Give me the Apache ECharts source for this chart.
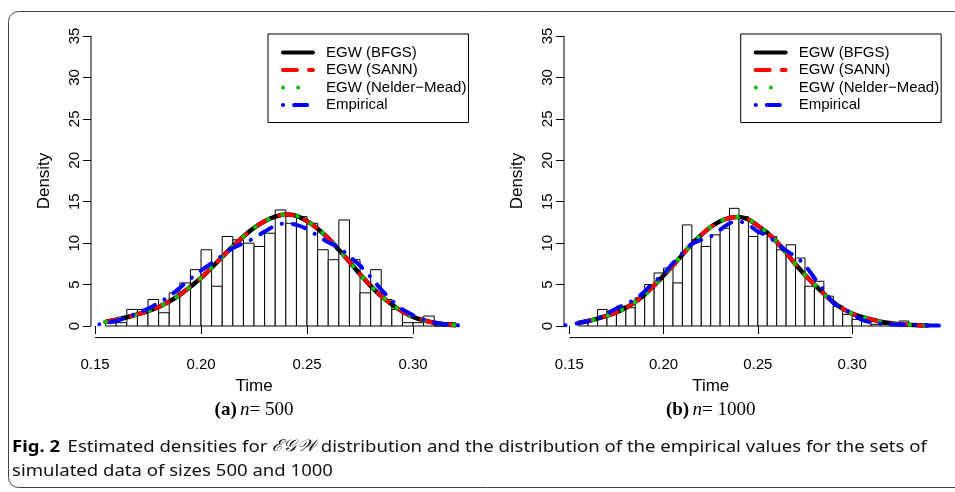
<!DOCTYPE html>
<html>
<head>
<meta charset="utf-8">
<script src="https://cdn.jsdelivr.net/npm/echarts@6/dist/echarts.min.js"></script>
<style>
html,body{margin:0;padding:0;background:#fff;}
#main{width:955px;height:492px;}
</style>
</head>
<body>
<div id="main"></div>
<script>
// ---------- DATA ----------
const xTicks = [0.15, 0.20, 0.25, 0.30];
const yTicks = [0, 5, 10, 15, 20, 25, 30, 35];
const seriesNames = ['EGW (BFGS)', 'EGW (SANN)', 'EGW (Nelder\u2212Mead)', 'Empirical'];

// (a) n = 500 : histogram
const leftBreaks = [0.155,0.16,0.165,0.17,0.175,0.18,0.185,0.19,0.195,0.2,0.205,0.21,0.215,0.22,0.225,0.23,0.235,0.24,0.245,0.25,0.255,0.26,0.265,0.27,0.275,0.28,0.285,0.29,0.295,0.3,0.305,0.31,0.315,0.32];
const leftDensity = [0.4,0.4,2.0,2.0,3.2,1.6,4.0,5.2,6.8,9.2,4.8,10.8,10.4,10.0,9.6,11.2,14.0,12.4,13.2,12.4,9.2,8.0,12.8,8.0,4.0,6.8,3.2,2.0,0.4,0.4,1.2,0,0.4];
// (a) fitted curves
const leftFitX = [0.155,0.16,0.165,0.17,0.175,0.18,0.185,0.19,0.195,0.2,0.205,0.21,0.215,0.22,0.225,0.23,0.235,0.24,0.245,0.25,0.255,0.26,0.265,0.27,0.275,0.28,0.285,0.29,0.295,0.3,0.305,0.31,0.315,0.32];
const leftBFGS = [0.5,0.75,1.05,1.4,1.8,2.3,2.95,3.75,4.75,5.8,7.05,8.35,9.6,10.8,11.85,12.65,13.2,13.45,13.3,12.65,11.75,10.6,9.2,7.75,6.25,4.85,3.6,2.6,1.75,1.1,0.7,0.4,0.22,0.1];
const leftSANN = [0.5,0.75,1.05,1.4,1.8,2.3,2.95,3.75,4.75,5.8,7.05,8.35,9.6,10.8,11.85,12.65,13.2,13.45,13.3,12.65,11.75,10.6,9.2,7.75,6.25,4.85,3.6,2.6,1.75,1.1,0.7,0.4,0.22,0.1];
const leftNM   = [0.5,0.75,1.05,1.4,1.8,2.3,2.95,3.75,4.75,5.8,7.05,8.35,9.6,10.8,11.85,12.65,13.2,13.45,13.3,12.65,11.75,10.6,9.2,7.75,6.25,4.85,3.6,2.6,1.75,1.1,0.7,0.4,0.22,0.1];
const leftEmpX = [0.152,0.155,0.16,0.165,0.17,0.175,0.18,0.185,0.19,0.195,0.2,0.205,0.21,0.215,0.22,0.225,0.23,0.235,0.24,0.245,0.25,0.255,0.26,0.265,0.27,0.275,0.28,0.285,0.29,0.295,0.3,0.305,0.31,0.315,0.32,0.323];
const leftEmp  = [0.2,0.35,0.6,1.05,1.55,2.1,2.8,3.6,4.6,5.7,6.7,7.6,8.5,9.4,10.0,10.6,11.4,12.1,12.4,12.2,11.7,10.9,10.1,9.5,8.4,7.3,5.9,4.4,3.1,2.0,1.3,0.75,0.42,0.2,0.1,0.06];

// (b) n = 1000 : histogram
const rightBreaks = [0.155,0.16,0.165,0.17,0.175,0.18,0.185,0.19,0.195,0.2,0.205,0.21,0.215,0.22,0.225,0.23,0.235,0.24,0.245,0.25,0.255,0.26,0.265,0.27,0.275,0.28,0.285,0.29,0.295,0.3,0.305,0.31,0.315,0.32,0.325,0.33,0.335,0.34];
const rightDensity = [0.4,0.8,2.0,1.8,2.4,2.2,3.4,5.0,6.4,7.0,5.2,12.2,10.4,9.6,11.0,11.8,14.2,13.2,10.8,11.4,10.8,9.2,9.8,8.2,4.8,5.4,3.6,2.4,1.4,0.8,0.6,0.2,0.2,0.2,0.6,0.2,0.2];
// (b) fitted curves
const rightFitX = [0.155,0.16,0.165,0.17,0.175,0.18,0.185,0.19,0.195,0.2,0.205,0.21,0.215,0.22,0.225,0.23,0.235,0.24,0.245,0.25,0.255,0.26,0.265,0.27,0.275,0.28,0.285,0.29,0.295,0.3,0.305,0.31,0.315,0.32,0.325,0.33,0.335,0.34];
const rightBFGS = [0.4,0.6,0.9,1.25,1.65,2.2,2.9,3.8,4.9,6.1,7.3,8.6,9.9,11.0,11.95,12.65,13.05,13.15,12.85,12.1,11.25,10.15,8.85,7.45,6.15,5.0,3.9,2.85,2.1,1.5,1.1,0.8,0.52,0.35,0.22,0.15,0.09,0.05];
const rightSANN = [0.4,0.6,0.9,1.25,1.65,2.2,2.9,3.8,4.9,6.1,7.3,8.6,9.9,11.0,11.95,12.65,13.05,13.15,12.85,12.1,11.25,10.15,8.85,7.45,6.15,5.0,3.9,2.85,2.1,1.5,1.1,0.8,0.52,0.35,0.22,0.15,0.09,0.05];
const rightNM   = [0.4,0.6,0.9,1.25,1.65,2.2,2.9,3.8,4.9,6.1,7.3,8.6,9.9,11.0,11.95,12.65,13.05,13.15,12.85,12.1,11.25,10.15,8.85,7.45,6.15,5.0,3.9,2.85,2.1,1.5,1.1,0.8,0.52,0.35,0.22,0.15,0.09,0.05];
const rightEmpX = [0.148,0.155,0.16,0.165,0.17,0.175,0.18,0.185,0.19,0.195,0.2,0.205,0.21,0.215,0.22,0.225,0.23,0.235,0.24,0.245,0.25,0.255,0.26,0.265,0.27,0.275,0.28,0.285,0.29,0.295,0.3,0.305,0.31,0.315,0.32,0.325,0.33,0.335,0.34,0.346];
const rightEmp  = [0.1,0.35,0.6,0.9,1.5,2.1,2.7,3.2,4.2,5.3,6.3,7.6,8.8,9.9,10.4,10.8,11.6,12.4,12.6,12.2,11.4,10.9,10.0,9.1,8.4,7.3,5.8,4.3,2.8,2.1,1.5,0.75,0.45,0.3,0.2,0.18,0.15,0.12,0.08,0.05];

const panelLabels = ['(a)', '(b)'];
const panelN = ['500', '1000'];
const xName = 'Time';
const yName = 'Density';
const captionBold = 'Fig. 2';
const captionLine1 = 'Estimated densities for ';
const captionScript = '\u2130\uD835\uDCA2\uD835\uDCB2';
const captionLine1b = ' distribution and the distribution of the empirical values for the sets of';
const captionLine2 = 'simulated data of sizes 500 and 1000';

// ---------- BUILD ----------
const chart = echarts.init(document.getElementById('main'), null, {renderer: 'canvas'});
const SANS = "'Liberation Sans', Arial, Helvetica, sans-serif";
const SERIF = "'Liberation Serif', 'DejaVu Serif', serif";
const CAP = "'Noto Sans', 'Open Sans', sans-serif";

function pairs(xs, ys) { return xs.map((x, i) => [x, ys[i]]); }
function histData(breaks, dens) { return dens.map((d, i) => [breaks[i], breaks[i + 1], d]); }

const panels = [
  {grid: {left: 91, top: 24.4, width: 378, height: 313.2}, xmin: 0.1481, xmax: 0.3264,
   hist: histData(leftBreaks, leftDensity), fitX: leftFitX, bfgs: leftBFGS, sann: leftSANN, nm: leftNM, empX: leftEmpX, emp: leftEmp},
  {grid: {left: 564, top: 24.4, width: 377.7, height: 313.2}, xmin: 0.1472, xmax: 0.3475,
   hist: histData(rightBreaks, rightDensity), fitX: rightFitX, bfgs: rightBFGS, sann: rightSANN, nm: rightNM, empX: rightEmpX, emp: rightEmp}
];
const YMIN = -1.4, YMAX = 36.4;

const grids = [], xAxes = [], yAxes = [], series = [], legends = [], graphics = [];

panels.forEach((p, k) => {
  grids.push(p.grid);
  xAxes.push({
    type: 'value', gridIndex: k, min: p.xmin, max: p.xmax,
    axisLine: {show: false}, splitLine: {show: false},
    axisTick: {show: true, customValues: xTicks, length: 8, lineStyle: {color: '#000', width: 1}},
    axisLabel: {show: true, customValues: xTicks, formatter: v => v.toFixed(2), margin: 20,
      color: '#000', fontFamily: SANS, fontSize: 15}
  });
  yAxes.push({
    type: 'value', gridIndex: k, min: YMIN, max: YMAX,
    axisLine: {show: false}, splitLine: {show: false},
    axisTick: {show: true, customValues: yTicks, length: 8, lineStyle: {color: '#000', width: 1}},
    axisLabel: {show: true, customValues: yTicks, rotate: 90, margin: 9,
      color: '#000', fontFamily: SANS, fontSize: 15},
    name: yName, nameLocation: 'middle', nameGap: 38, nameRotate: 90,
    nameTextStyle: {color: '#000', fontFamily: SANS, fontSize: 17}
  });
  // axis segments (R style, span tick range only)
  series.push({
    type: 'line', xAxisIndex: k, yAxisIndex: k, silent: true, clip: false, symbol: 'none',
    data: [[xTicks[0], YMIN], [xTicks[xTicks.length - 1], YMIN]],
    lineStyle: {color: '#000', width: 1}, z: 1
  });
  series.push({
    type: 'line', xAxisIndex: k, yAxisIndex: k, silent: true, clip: false, symbol: 'none',
    data: [[p.xmin, yTicks[0]], [p.xmin, yTicks[yTicks.length - 1]]],
    lineStyle: {color: '#000', width: 1}, z: 1
  });
  // histogram
  series.push({
    type: 'custom', xAxisIndex: k, yAxisIndex: k, silent: true, z: 2,
    data: p.hist,
    renderItem: function (params, api) {
      const a = api.coord([api.value(0), 0]);
      const b = api.coord([api.value(1), api.value(2)]);
      return {type: 'rect', shape: {x: a[0], y: b[1], width: b[0] - a[0], height: a[1] - b[1]},
        style: {fill: '#fff', stroke: '#000', lineWidth: 1}};
    }
  });
  // density curves
  series.push({name: seriesNames[0], type: 'line', xAxisIndex: k, yAxisIndex: k, symbol: 'none', smooth: 0.3, z: 3,
    data: pairs(p.fitX, p.bfgs), lineStyle: {color: '#000', width: 4.5, cap: 'round'}, itemStyle: {color: '#000'}});
  series.push({name: seriesNames[1], type: 'line', xAxisIndex: k, yAxisIndex: k, symbol: 'none', smooth: 0.3, z: 4,
    data: pairs(p.fitX, p.sann), lineStyle: {color: '#ff0000', width: 4, type: [14, 12], cap: 'round'}, itemStyle: {color: '#ff0000'}});
  series.push({name: seriesNames[2], type: 'line', xAxisIndex: k, yAxisIndex: k, symbol: 'none', smooth: 0.3, z: 5,
    data: pairs(p.fitX, p.nm), lineStyle: {color: '#00c000', width: 4.5, type: [0.1, 15], cap: 'round'}, itemStyle: {color: '#00c000'}});
  series.push({name: seriesNames[3], type: 'line', xAxisIndex: k, yAxisIndex: k, symbol: 'none', smooth: 0.3, z: 6,
    data: pairs(p.empX, p.emp), lineStyle: {color: '#0000ff', width: 4, type: [0.1, 11, 13, 11], cap: 'round'}, itemStyle: {color: '#0000ff'}});

  legends.push({
    data: seriesNames, orient: 'vertical', selectedMode: false,
    left: p.grid.left + p.grid.width - 201, top: 34,
    borderColor: '#000', borderWidth: 1, borderRadius: 0,
    padding: [11, 2, 10, 13],
    itemWidth: 30, itemHeight: 14, itemGap: 2.5,
    itemStyle: {opacity: 0},
    lineStyle: {width: 4, cap: 'round'},
    textStyle: {color: '#000', fontFamily: SANS, fontSize: 15, padding: [0, 0, 0, 8], lineHeight: 14}
  });

  const cx = (p.grid.left + (xTicks[0] - p.xmin) / (p.xmax - p.xmin) * p.grid.width +
              p.grid.left + (xTicks[3] - p.xmin) / (p.xmax - p.xmin) * p.grid.width) / 2;
  graphics.push({type: 'text', x: cx, y: 386, silent: true,
    style: {text: xName, fill: '#000', font: '17px ' + SANS, align: 'center', verticalAlign: 'middle'}});
  graphics.push({type: 'text', x: cx, y: 410, silent: true,
    style: {text: '{b|' + panelLabels[k] + '} {i|n}{r|= ' + panelN[k] + '}', align: 'center', verticalAlign: 'middle',
      rich: {
        b: {fontFamily: SERIF, fontWeight: 'bold', fontSize: 19, fill: '#000'},
        i: {fontFamily: SERIF, fontStyle: 'italic', fontSize: 19, fill: '#000'},
        r: {fontFamily: SERIF, fontSize: 19, fill: '#000'}
      }}});
});

// outer frame
graphics.push({type: 'rect', silent: true, z: -1,
  shape: {x: 8.5, y: 11.5, width: 1000, height: 476, r: 10},
  style: {fill: 'none', stroke: '#444', lineWidth: 1}});

// caption (horizontally condensed to the reference's measure)
const mctx = document.createElement('canvas').getContext('2d');
function tw(font, s) { mctx.font = font; return mctx.measureText(s).width; }
const capSize = 16.5;
const line1W = tw('bold ' + capSize + 'px ' + CAP, captionBold + '  ') + tw(capSize + 'px ' + CAP, captionLine1 + captionLine1b) + tw('italic ' + capSize + "px 'DejaVu Serif', serif", captionScript);
const capScale = 917 / line1W;
graphics.push({type: 'text', x: 12, y: 447, scaleX: capScale, silent: true,
  style: {text: '{b|' + captionBold + '}  {t|' + captionLine1 + '}{s|' + captionScript + '}{t|' + captionLine1b + '}',
    verticalAlign: 'middle',
    rich: {
      b: {fontFamily: CAP, fontWeight: 'bold', fontSize: capSize, fill: '#000'},
      t: {fontFamily: CAP, fontSize: capSize, fill: '#111'},
      s: {fontFamily: "'DejaVu Serif', serif", fontStyle: 'italic', fontSize: capSize, fill: '#111'}
    }}});
graphics.push({type: 'text', x: 12, y: 471, scaleX: capScale, silent: true,
  style: {text: captionLine2, verticalAlign: 'middle', font: capSize + 'px ' + CAP, fill: '#111'}});

chart.setOption({
  animation: false,
  backgroundColor: '#fff',
  grid: grids, xAxis: xAxes, yAxis: yAxes,
  legend: legends, series: series, graphic: graphics
});
</script>
</body>
</html>
